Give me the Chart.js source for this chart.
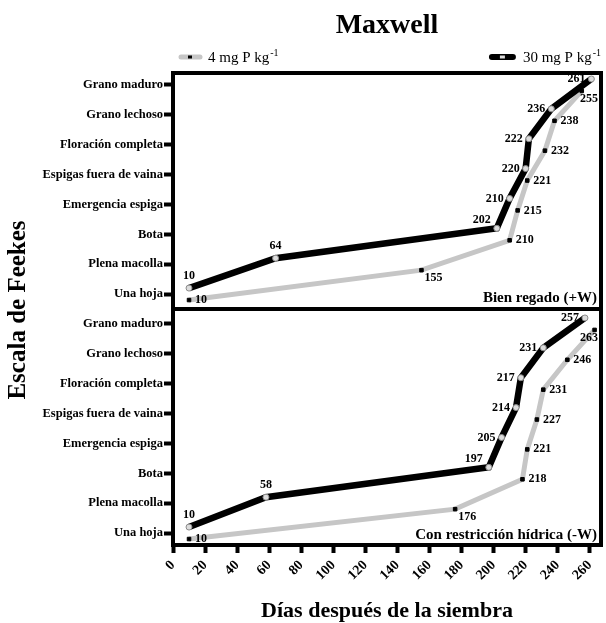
<!DOCTYPE html>
<html>
<head>
<meta charset="utf-8">
<script src="https://cdn.jsdelivr.net/npm/chart.js@4.4.0/dist/chart.umd.min.js"></script>
<style>
  body { margin: 0; background: #fff; }
  #wrap { width: 606px; height: 623px; }
</style>
</head>
<body>
<div id="wrap"><canvas id="feekesChart" width="606" height="623"></canvas></div>
<script>
// Feekes stages, bottom to top
const stages = ['Una hoja', 'Plena macolla', 'Bota', 'Emergencia espiga',
  'Espigas fuera de vaina', 'Floración completa', 'Grano lechoso', 'Grano maduro'];
const stageLevels = [1, 2, 3, 4, 5, 6, 7, 8];
const dayTicks = [0, 20, 40, 60, 80, 100, 120, 140, 160, 180, 200, 220, 240, 260];

// days after sowing to reach each stage
const wet30 = [10, 64, 202, 210, 220, 222, 236, 261];   // Bien regado, 30 mg P
const wet4 = [10, 155, 210, 215, 221, 232, 238, 255];   // Bien regado, 4 mg P
const dry30 = [10, 58, 197, 205, 214, 217, 231, 257];   // Con restriccion, 30 mg P
const dry4 = [10, 176, 218, 221, 227, 231, 246, 263];   // Con restriccion, 4 mg P

const SERIF = "'Liberation Serif', 'Times New Roman', serif";
const GRAY = '#c6c6c6';

document.addEventListener('DOMContentLoaded', function() {
    const ctx = document.getElementById('feekesChart').getContext('2d');

    // the two series are drawn a bit apart so they don't sit on top of each other
    function points(days, shift) {
        return days.map((d, i) => ({ x: d, y: stageLevels[i] + shift }));
    }

    function black(days, axis) {
        return {
            kind: 'hi', data: points(days, 0.2), yAxisID: axis,
            borderColor: '#000', borderWidth: 6.5, tension: 0,
            pointStyle: 'circle', pointRadius: 3,
            pointBackgroundColor: '#dcdcdc', pointBorderColor: '#8a8a8a', pointBorderWidth: 1
        };
    }
    function gray(days, axis) {
        return {
            kind: 'lo', data: points(days, -0.2), yAxisID: axis,
            borderColor: GRAY, borderWidth: 5, tension: 0,
            pointStyle: 'rect', pointRadius: 2.5,
            pointBackgroundColor: '#000', pointBorderColor: '#000', pointBorderWidth: 1
        };
    }

    function stageAxis(min, max) {
        return {
            type: 'linear', position: 'left', stack: 'panels', stackWeight: 1,
            min: min, max: max,
            afterBuildTicks: s => { s.ticks = stageLevels.map(v => ({ value: v })); },
            afterFit: s => { s.width = 173; },
            ticks: {
                callback: (v, i) => stages[i],
                color: '#000', padding: 1,
                font: { family: SERIF, weight: 'bold', size: 12.5 }
            },
            grid: { drawOnChartArea: false, tickLength: 9, tickWidth: 4, tickColor: '#000' },
            border: { display: false }
        };
    }

    const extras = {
        id: 'extras',
        afterDatasetsDraw(chart) {
            const c = chart.ctx;
            const area = chart.chartArea;
            c.save();

            // panel frames
            c.strokeStyle = '#000';
            c.lineWidth = 4;
            ['yTop', 'yBot'].forEach(id => {
                const s = chart.scales[id];
                c.strokeRect(area.left, s.top, area.right - area.left, s.bottom - s.top);
            });

            // day labels beside each point
            c.fillStyle = '#000';
            c.font = 'bold 12px ' + SERIF;
            chart.data.datasets.forEach((ds, i) => {
                const meta = chart.getDatasetMeta(i);
                meta.data.forEach((pt, j) => {
                    const txt = String(ds.data[j].x);
                    const w = c.measureText(txt).width;
                    let x = pt.x, y = pt.y;
                    if (ds.kind === 'hi') {
                        if (j < 2) {
                            c.textAlign = 'center'; c.textBaseline = 'bottom';
                            y -= 6;
                        } else {
                            c.textAlign = 'right'; c.textBaseline = 'middle';
                            x -= 6;
                            if (j === 2) y -= 8;
                        }
                    } else {
                        c.textAlign = 'left';
                        if (j === 1) {
                            c.textBaseline = 'top';
                            x += 3; y += 2;
                        } else {
                            c.textBaseline = 'middle';
                            x += 6;
                            if (x + w > area.right - 3) { x = area.right - 3 - w; y += 8; }
                        }
                    }
                    c.fillText(txt, x, y);
                });
            });

            // panel captions
            c.font = 'bold 15px ' + SERIF;
            c.textAlign = 'right';
            c.textBaseline = 'alphabetic';
            c.fillText('Bien regado (+W)', area.right - 4, chart.scales.yTop.bottom - 7);
            c.fillText('Con restricción hídrica (-W)', area.right - 4, chart.scales.yBot.bottom - 6);
            c.restore();
        },
        afterDraw(chart) {
            const c = chart.ctx;
            const area = chart.chartArea;
            const mid = (area.left + area.right) / 2;
            c.save();
            c.fillStyle = '#000';

            c.font = 'bold 28px ' + SERIF;
            c.textAlign = 'center';
            c.textBaseline = 'alphabetic';
            c.fillText('Maxwell', mid, 33);

            c.font = 'bold 22px ' + SERIF;
            c.fillText('Días después de la siembra', mid, 617);

            c.save();
            c.translate(19, 310);
            c.rotate(-Math.PI / 2);
            c.textBaseline = 'middle';
            c.font = 'bold 25px ' + SERIF;
            c.fillText('Escala de Feekes', 0, 0);
            c.restore();

            // legend
            function unitText(x, y, main) {
                c.textAlign = 'left';
                c.font = '15px ' + SERIF;
                c.fillText(main, x, y);
                const w = c.measureText(main).width;
                c.font = '10px ' + SERIF;
                c.fillText('-1', w + x + 1, y - 6);
                return w + 1 + c.measureText('-1').width;
            }
            const ly = 57;
            c.lineCap = 'round';
            c.strokeStyle = GRAY; c.lineWidth = 5;
            c.beginPath(); c.moveTo(181, ly); c.lineTo(200, ly); c.stroke();
            c.fillRect(188, ly - 1.5, 4, 3);
            unitText(208, ly + 5, '4 mg P kg');

            c.font = '15px ' + SERIF;
            const wMain = c.measureText('30 mg P kg').width;
            c.font = '10px ' + SERIF;
            const wSup = c.measureText('-1').width;
            const tx = 601 - wMain - 1 - wSup;
            c.strokeStyle = '#000'; c.lineWidth = 6;
            c.beginPath(); c.moveTo(tx - 31, ly); c.lineTo(tx - 10, ly); c.stroke();
            c.fillStyle = '#dcdcdc';
            c.fillRect(tx - 23, ly - 1.5, 5, 3);
            c.fillStyle = '#000';
            unitText(tx, ly + 5, '30 mg P kg');
            c.restore();
        }
    };

    new Chart(ctx, {
        type: 'line',
        data: {
            datasets: [
                black(wet30, 'yTop'), gray(wet4, 'yTop'),
                black(dry30, 'yBot'), gray(dry4, 'yBot')
            ]
        },
        options: {
            responsive: false,
            animation: false,
            layout: { padding: { top: 73, right: 5, left: 0, bottom: 0 } },
            plugins: { legend: { display: false }, tooltip: { enabled: false } },
            scales: {
                x: {
                    type: 'linear', min: 0, max: 267,
                    afterBuildTicks: s => { s.ticks = dayTicks.map(v => ({ value: v })); },
                    afterFit: s => { s.height = 78; },
                    ticks: {
                        minRotation: 45, maxRotation: 45, color: '#000', padding: 4,
                        font: { family: SERIF, weight: 'bold', size: 14 }
                    },
                    grid: { drawOnChartArea: false, tickLength: 8, tickWidth: 4, tickColor: '#000' },
                    border: { display: false }
                },
                yBot: stageAxis(0.6, 8.5),
                yTop: stageAxis(0.5, 8.4)
            }
        },
        plugins: [extras]
    });
});
</script>
</body>
</html>
